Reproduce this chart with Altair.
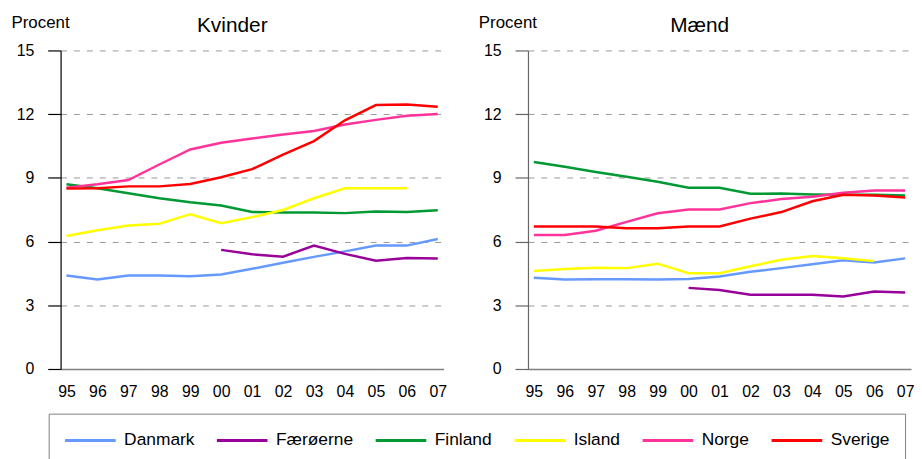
import altair as alt
import pandas as pd

years = ["95", "96", "97", "98", "99", "00", "01", "02", "03", "04", "05", "06", "07"]
countries = ["Danmark", "Færøerne", "Finland", "Island", "Norge", "Sverige"]
colors = ["#6699FF", "#990099", "#009933", "#FFFF00", "#FF3399", "#FF0000"]
y_ticks = [0, 3, 6, 9, 12, 15]

# Kvinder
kv_danmark = [4.40, 4.22, 4.40, 4.40, 4.37, 4.45, 4.72, 5.00, 5.28, 5.54, 5.81, 5.81, 6.12]
kv_faeroerne = [None, None, None, None, None, 5.61, 5.40, 5.29, 5.81, 5.42, 5.10, 5.23, 5.20]
kv_finland = [8.70, 8.51, 8.28, 8.04, 7.85, 7.70, 7.39, 7.37, 7.37, 7.34, 7.42, 7.39, 7.48]
kv_island = [6.26, 6.53, 6.76, 6.84, 7.29, 6.87, 7.15, 7.49, 8.04, 8.51, 8.51, 8.51, None]
kv_norge = [8.54, 8.70, 8.90, 9.63, 10.34, 10.65, 10.85, 11.04, 11.21, 11.51, 11.73, 11.93, 12.01]
kv_sverige = [8.50, 8.51, 8.60, 8.60, 8.71, 9.03, 9.41, 10.10, 10.73, 11.71, 12.43, 12.45, 12.35]

# Mænd
m_danmark = [4.30, 4.21, 4.23, 4.23, 4.21, 4.24, 4.36, 4.58, 4.75, 4.93, 5.12, 5.01, 5.21]
m_faeroerne = [None, None, None, None, None, 3.82, 3.72, 3.50, 3.50, 3.50, 3.41, 3.65, 3.60]
m_finland = [9.75, 9.52, 9.28, 9.05, 8.82, 8.54, 8.53, 8.25, 8.26, 8.22, 8.20, 8.20, 8.17]
m_island = [4.61, 4.71, 4.77, 4.75, 4.96, 4.51, 4.51, 4.84, 5.14, 5.32, 5.21, 5.08, None]
m_norge = [6.31, 6.31, 6.51, 6.93, 7.33, 7.51, 7.51, 7.81, 8.00, 8.11, 8.30, 8.40, 8.40]
m_sverige = [6.71, 6.71, 6.71, 6.63, 6.63, 6.71, 6.71, 7.08, 7.39, 7.90, 8.20, 8.17, 8.08]


def frame(series):
    rows = []
    for country, vals in zip(countries, series):
        for yr, v in zip(years, vals):
            if v is not None:
                rows.append({"year": yr, "country": country, "value": v})
    return pd.DataFrame(rows)


df_kv = frame([kv_danmark, kv_faeroerne, kv_finland, kv_island, kv_norge, kv_sverige])
df_m = frame([m_danmark, m_faeroerne, m_finland, m_island, m_norge, m_sverige])

FONT = "Liberation Sans"


def panel(df, title, axis_color):
    return alt.Chart(df).mark_line(strokeWidth=2.5).encode(
        x=alt.X(
            "year:O", sort=years,
            scale=alt.Scale(type="point", padding=0.19),
            axis=alt.Axis(
                title=None, labelAngle=0, ticks=False, grid=False,
                labelPadding=15, labelFontSize=16, labelFont=FONT,
                labelColor="#000000", domainColor="#808080", domainWidth=1.5,
            ),
        ),
        y=alt.Y(
            "value:Q",
            scale=alt.Scale(domain=[0, 15]),
            axis=alt.Axis(
                values=y_ticks, title="Procent", titleAngle=0, titleAlign="left",
                titleBaseline="alphabetic", titleX=-50, titleY=-23,
                titleFontSize=17, titleFont=FONT, titleFontWeight="normal",
                titleColor="#000000",
                tickSize=13, tickColor=axis_color, tickWidth=1.2,
                domainColor=axis_color, domainWidth=1.2,
                labelPadding=14, labelFontSize=16, labelFont=FONT, labelColor="#000000",
                grid=True, gridDash=[6, 7], gridColor="#999999", gridWidth=1,
            ),
        ),
        color=alt.Color(
            "country:N", sort=countries,
            scale=alt.Scale(domain=countries, range=colors),
            legend=alt.Legend(
                title=None, orient="none", direction="horizontal",
                legendX=-12, legendY=366,
                symbolType="stroke", symbolSize=2601, symbolStrokeWidth=3,
                labelFontSize=17.5, labelFont=FONT, labelColor="#000000",
                labelOffset=7, columnPadding=21, padding=15, clipHeight=24,
                strokeColor="#808080",
            ),
        ),
    ).properties(
        width=386, height=321,
        title=alt.TitleParams(
            title, fontSize=21, font=FONT, fontWeight="normal", color="#000000",
            anchor="middle", dx=-20, baseline="alphabetic", offset=-19, dy=20,
        ),
    )


left = panel(df_kv, "Kvinder", "#000000")
right = panel(df_m, "Mænd", "#666666")

chart = alt.hconcat(left, right, spacing=32).resolve_scale(color="shared").resolve_legend(
    color="shared"
).properties(
    padding={"left": 3, "top": 4, "right": 0, "bottom": 0},
).configure_view(stroke=None)

chart.save("out.html", embed_options={"renderer": "svg", "actions": False})
